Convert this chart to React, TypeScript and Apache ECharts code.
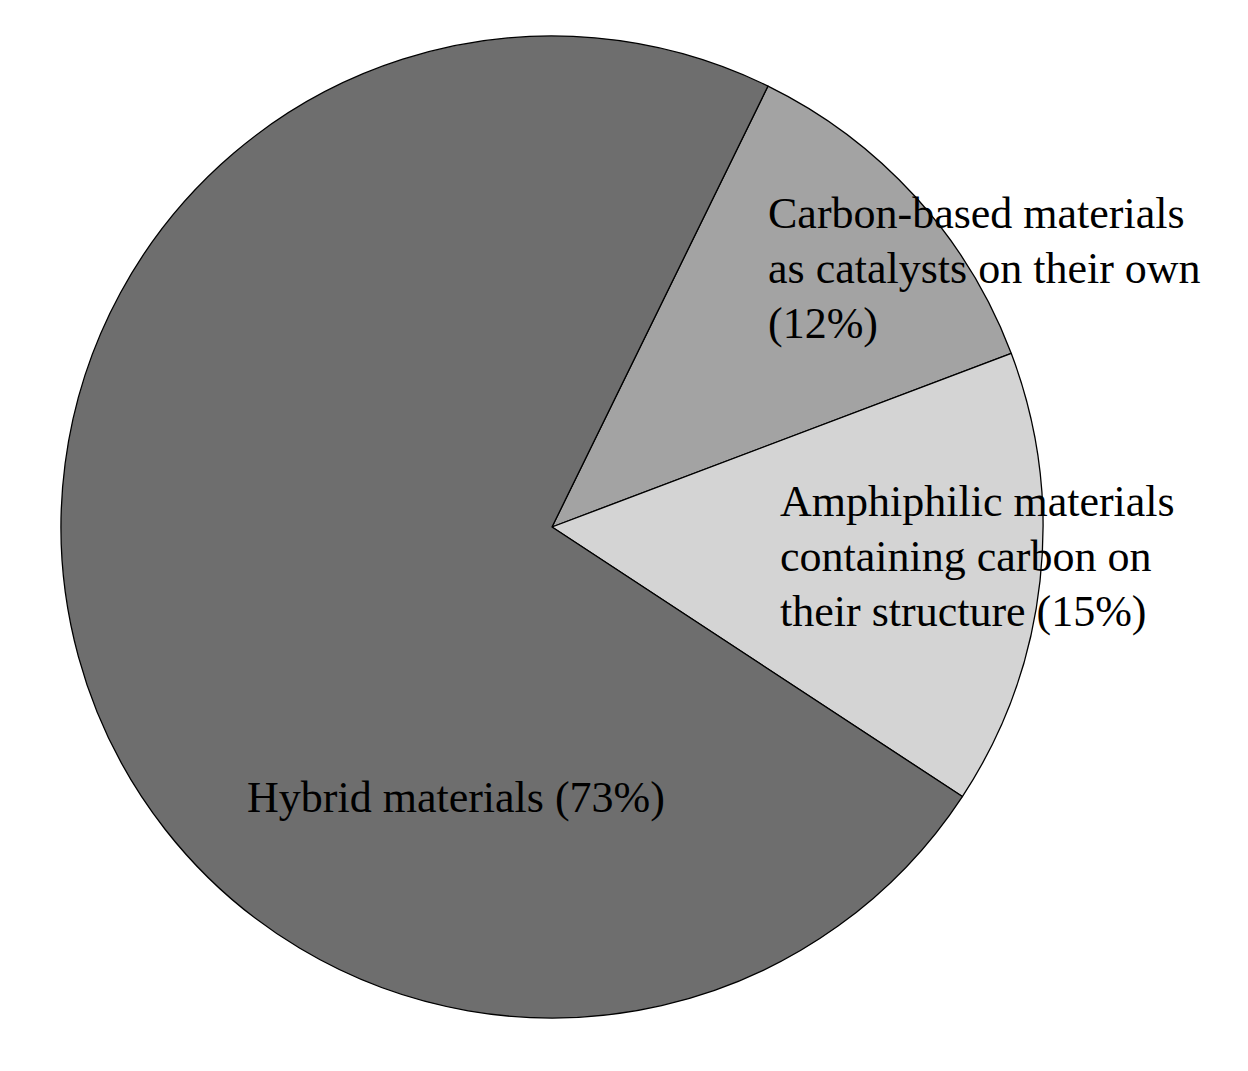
import React, { useEffect, useRef } from "react";
import * as echarts from "echarts";

const categories = [
  "Carbon-based materials as catalysts on their own",
  "Amphiphilic materials containing carbon on their structure",
  "Hybrid materials",
];
const values = [12, 15, 73];
const labelTexts = [
  "Carbon-based materials\nas catalysts on their own\n(12%)",
  "Amphiphilic materials\ncontaining carbon on\ntheir structure (15%)",
  "Hybrid materials (73%)",
];
const colors = ["#a3a3a3", "#d4d4d4", "#6e6e6e"];
const labelPos = [
  [768, 186],
  [780, 474],
  [247, 770],
];

export default function App() {
  const ref = useRef<HTMLDivElement>(null);
  useEffect(() => {
    if (!ref.current) return;
    const chart = echarts.init(ref.current, undefined, { renderer: "svg" });
    chart.setOption({
      animation: false,
      backgroundColor: "#ffffff",
      series: [
        {
          type: "pie",
          center: [552, 527],
          radius: 491,
          startAngle: 63.9,
          clockwise: true,
          avoidLabelOverlap: false,
          data: categories.map((c, i) => ({
            name: c,
            value: values[i],
            itemStyle: { color: colors[i] },
          })),
          itemStyle: { borderColor: "#000000", borderWidth: 1.3 },
          label: {
            show: true,
            position: "inside",
            formatter: (p: any) => labelTexts[p.dataIndex],
            fontFamily: "Liberation Serif",
            fontSize: 44,
            lineHeight: 55,
            color: "#000000",
            align: "left",
          },
          labelLine: { show: false },
          labelLayout: (p: any) => ({
            x: labelPos[p.dataIndex][0],
            y: labelPos[p.dataIndex][1],
            align: "left",
            verticalAlign: "top",
          }),
          emphasis: { disabled: true },
        },
      ],
    });
    return () => chart.dispose();
  }, []);
  return (
    <div
      ref={ref}
      style={{ position: "absolute", left: 0, top: 0, width: 1248, height: 1071 }}
    />
  );
}
